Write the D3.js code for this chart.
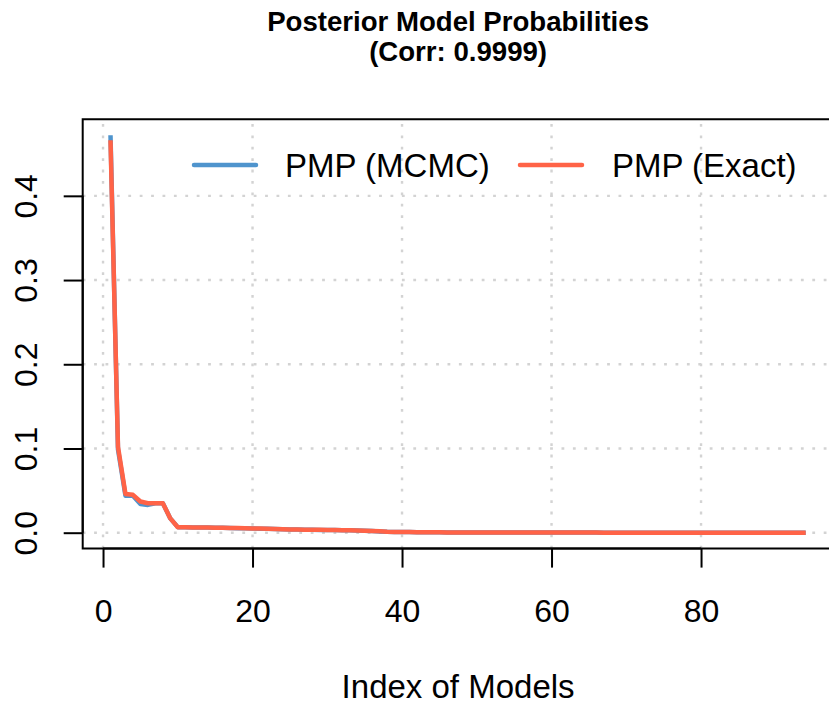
<!DOCTYPE html>
<html>
<head>
<meta charset="utf-8">
<script src="https://cdn.jsdelivr.net/npm/d3@7"></script>
<style>
  html, body { margin: 0; padding: 0; background: #ffffff; overflow: hidden; }
  svg { display: block; }
  text { font-family: "Liberation Sans", Arial, Helvetica, sans-serif; fill: #000; }
</style>
</head>
<body>
<script>
// ---------------- data ----------------
const titleLines = ["Posterior Model Probabilities", "(Corr: 0.9999)"];
const xLabel = "Index of Models";
const seriesNames = ["PMP (MCMC)", "PMP (Exact)"];
const seriesColors = ["#4F94CD", "#FF6347"];
const xTicks = [0, 20, 40, 60, 80];
const yTicks = [0.0, 0.1, 0.2, 0.3, 0.4];
const yTickLabels = ["0.0", "0.1", "0.2", "0.3", "0.4"];

// PMP from MCMC sampling (models 1..94)
const pmpMCMC = [
  0.472, 0.099, 0.044, 0.044, 0.034, 0.033, 0.035, 0.035, 0.017, 0.0066,
  0.0064, 0.0063, 0.0062, 0.0061, 0.0059, 0.0058, 0.0056, 0.0054, 0.0053, 0.0050,
  0.0048, 0.0046, 0.0043, 0.0041, 0.0039, 0.0037, 0.0036, 0.0035, 0.0033, 0.0032,
  0.0031, 0.0029, 0.0028, 0.0026, 0.0023, 0.0020, 0.0015, 0.0011, 0.0009, 0.0008,
  0.0007, 0.0006, 0.0005, 0.0004, 0.0004, 0.0003, 0.0003, 0.0003, 0.0002, 0.0002,
  0.0002, 0.0002, 0.0002, 0.0001, 0.0001, 0.0001, 0.0001, 0.0001, 0.0001, 0.0001,
  0.0001, 0.0001, 0.0001, 0.0001, 0.0001, 0.0001, 0.00005, 0.00005, 0.00005, 0.00005,
  0.00005, 0.00005, 0.00005, 0.00004, 0.00004, 0.00004, 0.00004, 0.00003, 0.00003, 0.00003,
  0.00003, 0.00003, 0.00002, 0.00002, 0.00002, 0.00002, 0.00002, 0.00002, 0.00001, 0.00001,
  0.00001, 0.00001, 0.00001, 0.00001
];
// exact PMP (models 1..94)
const pmpExact = [
  0.466, 0.102, 0.046, 0.045, 0.037, 0.035, 0.035, 0.035, 0.017, 0.0065,
  0.0064, 0.0063, 0.0062, 0.0061, 0.0060, 0.0058, 0.0056, 0.0055, 0.0053, 0.0051,
  0.0049, 0.0046, 0.0043, 0.0041, 0.0039, 0.0037, 0.0036, 0.0035, 0.0034, 0.0033,
  0.0031, 0.0030, 0.0028, 0.0027, 0.0024, 0.0021, 0.0016, 0.0011, 0.0009, 0.0008,
  0.0007, 0.0006, 0.0005, 0.0004, 0.0004, 0.0003, 0.0003, 0.0003, 0.0002, 0.0002,
  0.0002, 0.0002, 0.0002, 0.0001, 0.0001, 0.0001, 0.0001, 0.0001, 0.0001, 0.0001,
  0.0001, 0.0001, 0.0001, 0.0001, 0.0001, 0.0001, 0.00005, 0.00005, 0.00005, 0.00005,
  0.00005, 0.00005, 0.00005, 0.00004, 0.00004, 0.00004, 0.00004, 0.00003, 0.00003, 0.00003,
  0.00003, 0.00003, 0.00002, 0.00002, 0.00002, 0.00002, 0.00002, 0.00002, 0.00001, 0.00001,
  0.00001, 0.00001, 0.00001, 0.00001
];

// ---------------- layout ----------------
const W = 829, H = 706;
const plotLeft = 82.7, plotRight = 833.5, plotTop = 119.3, plotBottom = 548.6;

const svg = d3.select("body").append("svg")
  .attr("width", W).attr("height", H);

const n = pmpExact.length;
const xPad = (n - 1) * 0.04;
const x = d3.scaleLinear().domain([1 - xPad, n + xPad]).range([plotLeft, plotRight]);
const yMax = d3.max([d3.max(pmpMCMC), d3.max(pmpExact)]);
const yMin = 0;
const yPad = (yMax - yMin) * 0.04;
const y = d3.scaleLinear().domain([yMin - yPad, yMax + yPad]).range([plotBottom, plotTop]);

// grid
const gridStyle = g => g.attr("stroke", "#D3D3D3").attr("stroke-width", 2.4)
  .attr("stroke-dasharray", "2.8,8.6").attr("fill", "none");
svg.append("g").call(gridStyle)
  .selectAll("line.v").data(xTicks).enter().append("line")
  .attr("x1", d => x(d)).attr("x2", d => x(d))
  .attr("y1", plotBottom).attr("y2", plotTop);
svg.append("g").call(gridStyle)
  .selectAll("line.h").data(yTicks).enter().append("line")
  .attr("x1", plotLeft).attr("x2", plotRight)
  .attr("y1", d => y(d)).attr("y2", d => y(d));

// lines
const line = d3.line().x((d, i) => x(i + 1)).y(d => y(d));
[pmpMCMC, pmpExact].forEach((s, k) => {
  svg.append("path").datum(s)
    .attr("d", line)
    .attr("fill", "none")
    .attr("stroke", seriesColors[k])
    .attr("stroke-width", 4.5)
    .attr("stroke-linejoin", "round")
    .attr("stroke-linecap", "butt");
});

// box: left, top and bottom edges (the right edge lies beyond the canvas)
svg.append("path")
  .attr("d", `M${plotRight},${plotTop}H${plotLeft}V${plotBottom}H${plotRight}`)
  .attr("fill", "none").attr("stroke", "#000").attr("stroke-width", 2);

// x axis
const xAxis = d3.axisBottom(x).tickValues(xTicks).tickSize(19).tickPadding(0).tickFormat(d3.format("d"));
const gx = svg.append("g").attr("transform", `translate(0,${plotBottom})`).call(xAxis);
gx.select(".domain").attr("d", `M${x(xTicks[0])},0H${x(xTicks[xTicks.length-1])}`)
  .attr("stroke", "#000").attr("stroke-width", 2);
gx.selectAll(".tick line").attr("stroke", "#000").attr("stroke-width", 2);
gx.selectAll(".tick text")
  .attr("font-family", "Liberation Sans, Arial, sans-serif")
  .attr("font-size", 32).attr("fill", "#000")
  .attr("y", 73.5).attr("dy", 0);

// y axis
const yAxis = d3.axisLeft(y).tickValues(yTicks).tickSize(19).tickPadding(0)
  .tickFormat((d, i) => yTickLabels[i]);
const gy = svg.append("g").attr("transform", `translate(${plotLeft},0)`).call(yAxis);
gy.select(".domain").attr("d", `M0,${y(yTicks[0])}V${y(yTicks[yTicks.length-1])}`)
  .attr("stroke", "#000").attr("stroke-width", 2);
gy.selectAll(".tick line").attr("stroke", "#000").attr("stroke-width", 2);
gy.selectAll(".tick text")
  .attr("font-family", "Liberation Sans, Arial, sans-serif")
  .attr("font-size", 32).attr("fill", "#000")
  .attr("x", 0).attr("dy", 0)
  .attr("text-anchor", "middle")
  .attr("transform", "translate(-57,0) rotate(-90) translate(0,11.5)");

// x label
svg.append("text")
  .attr("x", (plotLeft + plotRight) / 2).attr("y", 698)
  .attr("text-anchor", "middle").attr("font-size", 33)
  .text(xLabel);

// title
titleLines.forEach((t, i) => {
  svg.append("text")
    .attr("x", (plotLeft + plotRight) / 2).attr("y", 31 + i * 29.5)
    .attr("text-anchor", "middle").attr("font-size", 27.6).attr("font-weight", "bold")
    .text(t);
});

// legend
const legendItems = [
  { name: seriesNames[0], color: seriesColors[0], x0: 194, tx: 285 },
  { name: seriesNames[1], color: seriesColors[1], x0: 520, tx: 612 }
];
const lg = svg.append("g");
legendItems.forEach(d => {
  lg.append("line")
    .attr("x1", d.x0).attr("x2", d.x0 + 62)
    .attr("y1", 165).attr("y2", 165)
    .attr("stroke", d.color).attr("stroke-width", 4.5).attr("stroke-linecap", "round");
  lg.append("text")
    .attr("x", d.tx).attr("y", 177)
    .attr("font-size", 33)
    .text(d.name);
});
</script>
</body>
</html>
